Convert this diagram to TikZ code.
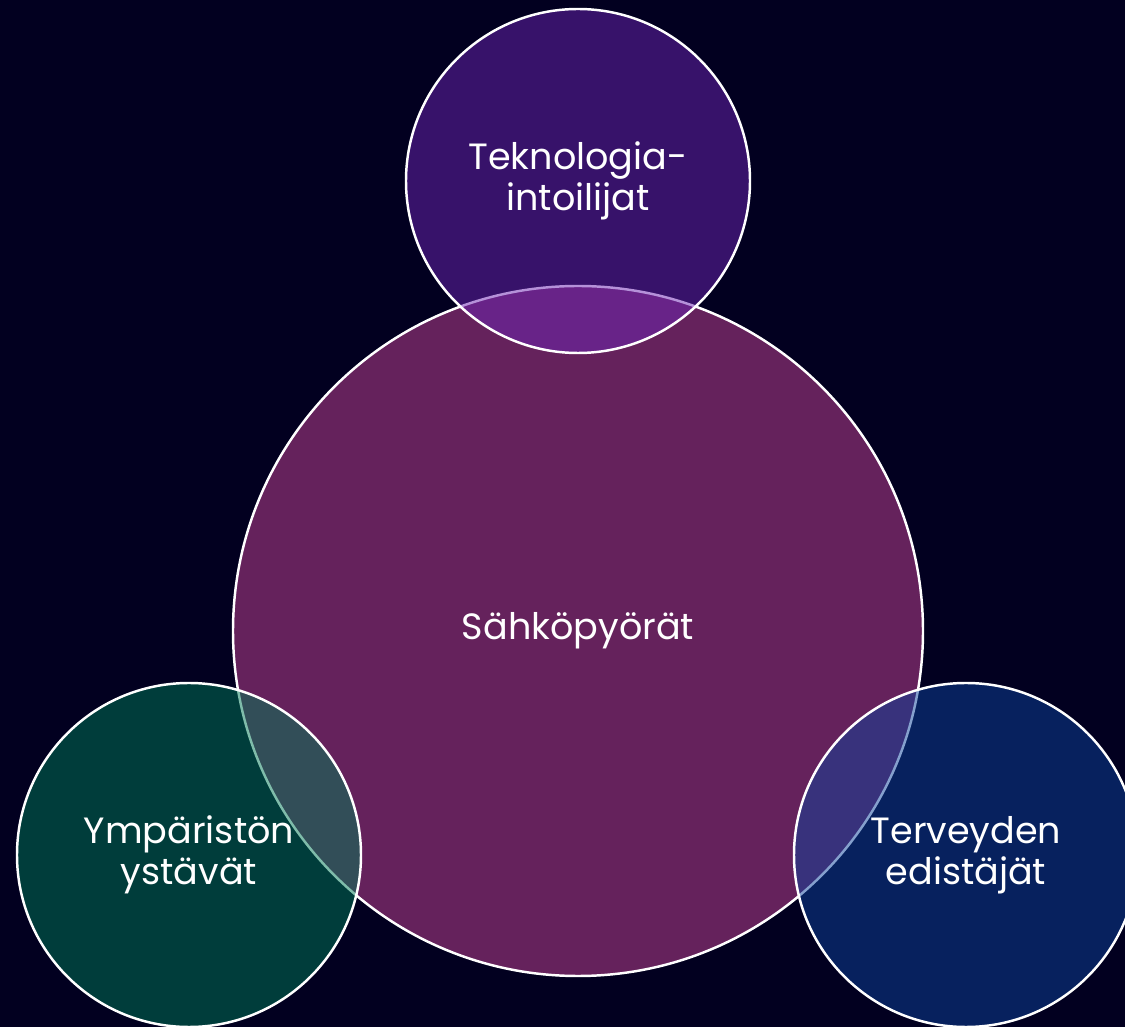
\documentclass[tikz,border=0pt]{standalone}
\usepackage{fontspec}
\setmainfont{Poppins}
\definecolor{bgnavy}{RGB}{2,0,32}
\definecolor{bikepurple}{RGB}{101,34,92}
\definecolor{techviolet}{RGB}{108,36,180}
\definecolor{ecogreen}{RGB}{0,122,86}
\definecolor{healthblue}{RGB}{12,66,157}
\begin{document}
\begin{tikzpicture}[
        venn/.style={circle, draw=white, line width=0.7pt, inner sep=0pt, text=white, align=center, font=\fontsize{10.4}{11.8}\selectfont},
        small/.style={venn, minimum size=3.44cm, fill opacity=0.5, text opacity=1, draw opacity=1}
    ]
        \useasboundingbox (0,0) rectangle (11.25,10.27);
        \clip (0,0) rectangle (11.25,10.27);
        \fill[bgnavy] (0,0) rectangle (11.25,10.27);
        \node[venn, minimum size=6.9cm, fill=bikepurple] (bikes) at (5.78,3.96) {Sähköpyörät};
        \node[small, fill=techviolet] (tech) at (5.78,8.46) {Teknologia-\\intoilijat};
        \node[small, fill=ecogreen] (eco) at (1.89,1.72) {Ympäristön\\ystävät};
        \node[small, fill=healthblue] (health) at (9.66,1.72) {Terveyden\\edistäjät};
    \end{tikzpicture}
\end{document}
